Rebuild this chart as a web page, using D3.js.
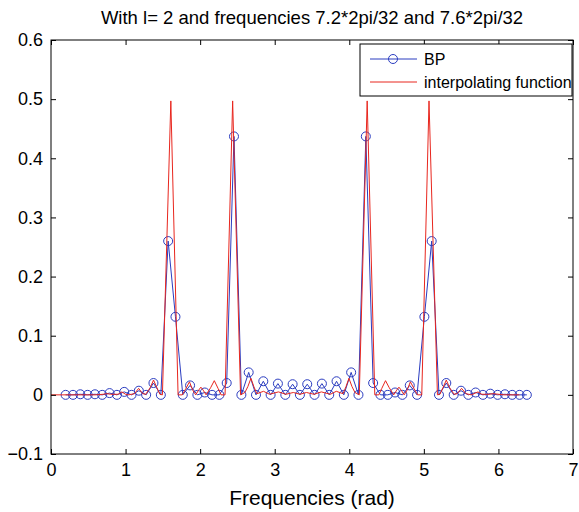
<!DOCTYPE html>
<html><head><meta charset="utf-8">
<script src="https://cdn.jsdelivr.net/npm/d3@7"></script>
<style>body{margin:0;background:#fff}svg{display:block}text{font-family:"Liberation Sans",Arial,sans-serif;fill:#000}</style>
</head><body>
<svg id="c" width="579" height="512"></svg>
<script>
// BP samples (frequency in rad, value)
const bpFreq = [0.196,0.295,0.393,0.491,0.589,0.687,0.785,0.884,0.982,1.080,1.178,1.276,1.374,1.473,1.571,1.669,
  1.767,1.865,1.963,2.062,2.160,2.258,2.356,2.454,2.553,2.651,2.749,2.847,2.945,3.043,3.142,3.240,
  3.338,3.436,3.534,3.633,3.731,3.829,3.927,4.025,4.123,4.222,4.320,4.418,4.516,4.614,4.712,4.811,
  4.909,5.007,5.105,5.203,5.301,5.400,5.498,5.596,5.694,5.792,5.891,5.989,6.087,6.185,6.283,6.381];
const bpVal = [0,0,0.001,0,0.001,0,0.003,0,0.005,0,0.007,0,0.02,0,0.26,0.132,
  0,0.016,0,0.004,0,0,0.02,0.437,0,0.038,0,0.023,0,0.019,0,0.018,
  0,0.018,0,0.019,0,0.023,0,0.038,0,0.437,0.02,0,0,0.004,0,0.016,
  0,0.132,0.26,0,0.02,0,0.007,0,0.004,0,0.002,0,0.001,0,0,0];
// interpolating function (breakpoints)
const ipFreq = [0,0.6,0.7,0.75,0.8,0.9,0.95,1.0,1.04,1.12,1.175,1.23,1.27,1.33,1.375,1.42,1.46,1.494,1.607,1.704,1.76,1.81,1.857,1.9,1.94,1.98,2.01,2.04,2.08,2.14,2.19,2.24,2.28,2.334,2.436,2.542,
  2.6,2.64,2.681,2.72,2.76,2.85,2.93,3.05,3.15,3.25,3.338,3.426,3.526,3.626,3.746,3.826,3.916,3.956,3.995,4.036,4.076,4.134,4.24,4.342,
  4.396,4.436,4.486,4.536,4.596,4.636,4.666,4.696,4.736,4.776,4.819,4.866,4.916,4.972,5.069,5.182,5.216,5.256,5.301,5.346,5.406,5.446,5.506,5.564,5.636,5.726,5.776,5.876,5.926,6.076,6.283];
const ipVal = [0,0,0.001,0.002,0.001,0.001,0.005,0.001,0,0.002,0.011,0.002,0.001,0.012,0.025,0.012,0.001,0,0.497,0,0,0.011,0.022,0.008,0,0.008,0.013,0.008,0,0.012,0.024,0.011,0,0,0.497,0,
  0.004,0.014,0.028,0.014,0.002,0.006,0.001,0.005,0.001,0.004,0.001,0.004,0.001,0.005,0.001,0.006,0.002,0.014,0.028,0.014,0.004,0,0.497,0,
  0,0.011,0.024,0.012,0,0.008,0.013,0.008,0,0.008,0.022,0.011,0,0,0.497,0,0.001,0.012,0.025,0.012,0.001,0.002,0.011,0.002,0,0.005,0.001,0.001,0.002,0,0];
const xTicks = [0,1,2,3,4,5,6,7];
const yTicks = [-0.1,0,0.1,0.2,0.3,0.4,0.5,0.6];
const title = "With l= 2 and frequencies 7.2*2pi/32 and 7.6*2pi/32";
const xLabel = "Frequencies (rad)";
const legendNames = ["BP","interpolating function"];

const L=51,R=573,T=40,B=454;
const svg=d3.select("#c");
const x=d3.scaleLinear().domain([0,7]).range([L,R]);
const y=d3.scaleLinear().domain([-0.1,0.6]).range([B,T]);
const blue="#2a3cc0", red="#e8261e";

const bp=bpFreq.map((f,i)=>[f,bpVal[i]]);
const ip=ipFreq.map((f,i)=>[f,ipVal[i]]);
const line=d3.line().x(d=>x(d[0])).y(d=>y(d[1]));
const g=svg.append("g");
g.append("path").attr("d",line(bp)).attr("fill","none").attr("stroke",blue).attr("stroke-width",1);
g.selectAll("circle.bp").data(bp).enter().append("circle").attr("class","bp")
  .attr("cx",d=>x(d[0])).attr("cy",d=>y(d[1])).attr("r",4.5).attr("fill","none").attr("stroke",blue).attr("stroke-width",1);
g.append("path").attr("d",line(ip)).attr("fill","none").attr("stroke",red).attr("stroke-width",1);

// axes
const ax=svg.append("g");
ax.append("g").attr("transform",`translate(0,${B})`).call(d3.axisBottom(x).tickValues(xTicks).tickSizeInner(-5).tickSizeOuter(0).tickPadding(9).tickFormat(d3.format("d")))
  .call(s=>{s.select(".domain").remove();s.selectAll("text").attr("font-size",18);});
ax.append("g").attr("transform",`translate(0,${T})`).call(d3.axisTop(x).tickValues(xTicks).tickSizeInner(-5).tickSizeOuter(0).tickFormat(""))
  .call(s=>s.select(".domain").remove());
ax.append("g").attr("transform",`translate(${L},0)`).call(d3.axisLeft(y).tickValues(yTicks).tickSizeInner(-5).tickSizeOuter(0).tickPadding(8).tickFormat(d=>d<0?"\u2212"+Math.abs(d):d3.format("")(d)))
  .call(s=>{s.select(".domain").remove();s.selectAll("text").attr("font-size",18);});
ax.append("g").attr("transform",`translate(${R},0)`).call(d3.axisRight(y).tickValues(yTicks).tickSizeInner(-5).tickSizeOuter(0).tickFormat(""))
  .call(s=>s.select(".domain").remove());
ax.selectAll(".tick line").attr("stroke","#000");
ax.append("rect").attr("x",L).attr("y",T).attr("width",R-L).attr("height",B-T).attr("fill","none").attr("stroke","#000").attr("stroke-width",1);

// legend
const lg=svg.append("g");
lg.append("rect").attr("x",360).attr("y",44).attr("width",212).attr("height",52).attr("fill","#fff").attr("stroke","#000");
lg.append("line").attr("x1",370).attr("x2",417).attr("y1",59).attr("y2",59).attr("stroke",blue);
lg.append("circle").attr("cx",393).attr("cy",59).attr("r",4.5).attr("fill","none").attr("stroke",blue);
lg.append("line").attr("x1",370).attr("x2",417).attr("y1",82).attr("y2",82).attr("stroke",red);
lg.selectAll("text").data(legendNames).enter().append("text").attr("x",424).attr("y",(d,i)=>59+i*23).attr("dy","0.35em").attr("font-size",16).text(d=>d);

svg.append("text").attr("x",(L+R)/2).attr("y",24).attr("text-anchor","middle").attr("font-size",18.5).text(title);
svg.append("text").attr("x",(L+R)/2).attr("y",505).attr("text-anchor","middle").attr("font-size",21).text(xLabel);
</script></body></html>
